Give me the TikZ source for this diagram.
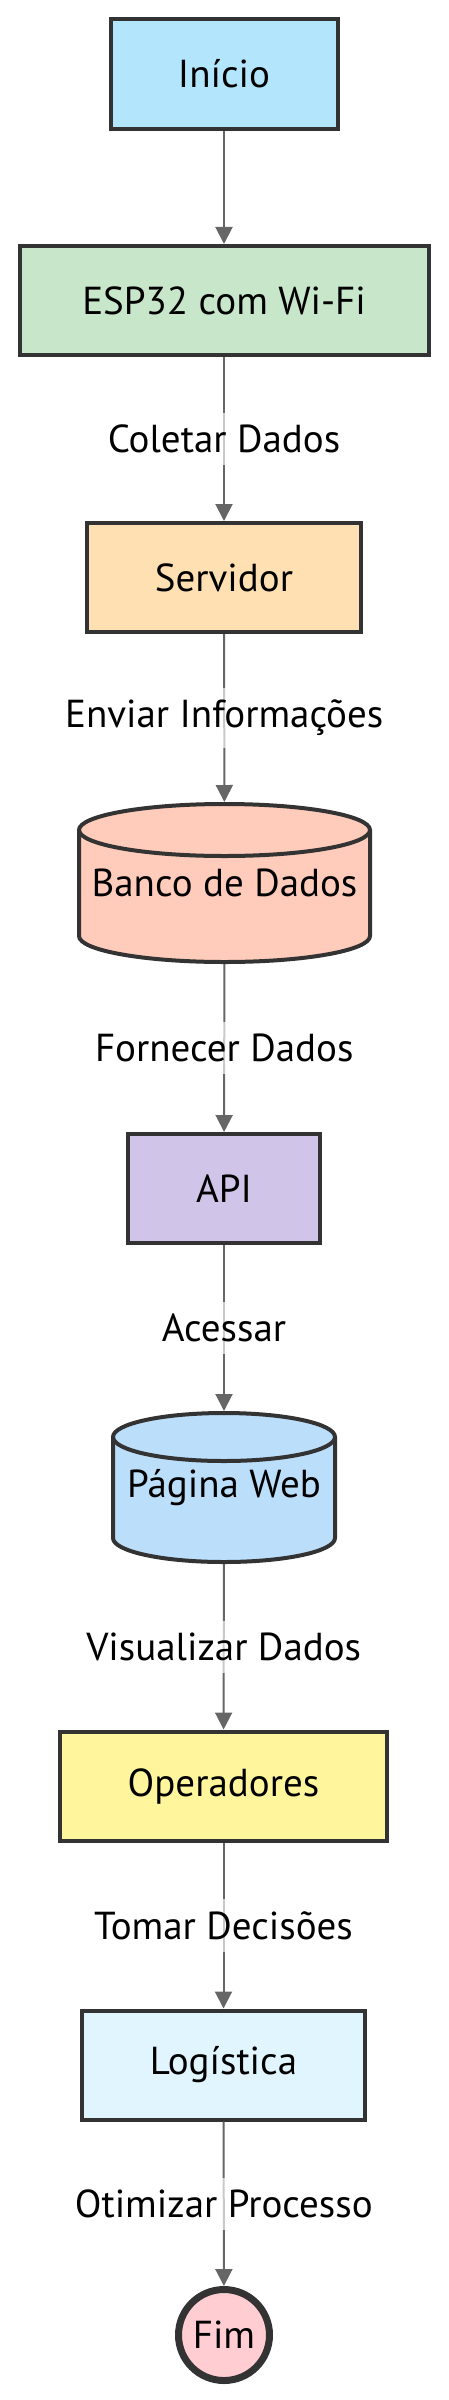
\documentclass[tikz,border=0pt]{standalone}
\usepackage{fontspec}
\setmainfont{PT Sans}
\usetikzlibrary{arrows.meta,calc}
\pgfdeclarelayer{bg}
\pgfsetlayers{bg,main}
\definecolor{strokec}{HTML}{333333}
\definecolor{edgec}{HTML}{666666}
\definecolor{cInicio}{HTML}{B3E5FC}
\definecolor{cEsp}{HTML}{C8E6C9}
\definecolor{cServ}{HTML}{FFE0B2}
\definecolor{cBanco}{HTML}{FFCCBC}
\definecolor{cApi}{HTML}{D1C4E9}
\definecolor{cWeb}{HTML}{BBDEFB}
\definecolor{cOper}{HTML}{FFF59D}
\definecolor{cLog}{HTML}{E1F5FE}
\definecolor{cFim}{HTML}{FFCDD2}
\newcommand{\lblfont}{\fontsize{39}{46}\selectfont}
% #1 node, #2 rx, #3 half height, #4 ry, #5 fill
\newcommand{\cylshape}[5]{%
 \begin{pgfonlayer}{bg}
 \path[fill=#5] ($(#1.center)+(-#2,#3-#4)$) -- ($(#1.center)+(-#2,-#3+#4)$)
   arc[start angle=180,end angle=360,x radius=#2,y radius=#4]
   -- ($(#1.center)+(#2,#3-#4)$)
   arc[start angle=0,end angle=180,x radius=#2,y radius=#4] -- cycle;
 \draw[line width=4pt, draw=strokec, line join=round] ($(#1.center)+(-#2,#3-#4)$) -- ($(#1.center)+(-#2,-#3+#4)$)
   arc[start angle=180,end angle=360,x radius=#2,y radius=#4]
   -- ($(#1.center)+(#2,#3-#4)$);
 \draw[line width=4pt, draw=strokec] ($(#1.center)+(0,#3-#4)$) ellipse[x radius=#2,y radius=#4];
 \end{pgfonlayer}%
}
\begin{document}
\begin{tikzpicture}[x=1pt,y=1pt,
  box/.style={draw=strokec, line width=4pt, rectangle, minimum height=109pt, inner sep=0pt, font=\lblfont},
  cylnode/.style={rectangle, draw=none, inner sep=0pt, outer sep=2pt, font=\lblfont},
  edge/.style={draw=edgec, line width=2pt, -{Triangle[length=17pt,width=17pt]}},
  elabel/.style={fill=white, fill opacity=0.65, text opacity=1, inner xsep=2pt, inner ysep=12pt, font=\lblfont}
]
\useasboundingbox (0,0) rectangle (448,-2400);

\node[box, fill=cInicio, minimum width=227pt, minimum height=110pt] (inicio) at (224,-74) {Início};
\node[box, fill=cEsp, minimum width=409pt] (esp) at (224,-300.5) {ESP32 com Wi-Fi};
\node[box, fill=cServ, minimum width=274pt] (serv) at (224,-577.5) {Servidor};
\node[cylnode, minimum width=291pt, minimum height=158pt] (banco) at (224.5,-883) {Banco de Dados};
\cylshape{banco}{145.5}{79}{26}{cBanco}
\node[box, fill=cApi, minimum width=192pt] (api) at (224,-1188.5) {API};
\node[cylnode, minimum width=222pt, minimum height=149pt] (web) at (224,-1487.5) {Página Web};
\cylshape{web}{111}{74.5}{24}{cWeb}
\node[box, fill=cOper, minimum width=327pt] (oper) at (223.5,-1786) {Operadores};
\node[box, fill=cLog, minimum width=283pt] (log) at (223.5,-2065) {Logística};
\node[circle, draw=strokec, line width=7pt, fill=cFim, minimum size=91pt, inner sep=0pt, font=\lblfont] (fim) at (224,-2335) {Fim};

\draw[edge] (inicio) -- (esp);
\draw[edge] (esp) -- node[elabel]{Coletar Dados} (serv);
\draw[edge] (serv) -- node[elabel]{Enviar Informações} (banco);
\draw[edge] (banco) -- node[elabel]{Fornecer Dados} (api);
\draw[edge] (api) -- node[elabel]{Acessar} (web);
\draw[edge] (web) -- node[elabel]{Visualizar Dados} (oper);
\draw[edge] (oper) -- node[elabel]{Tomar Decisões} (log);
\draw[edge] (log) -- node[elabel]{Otimizar Processo} (fim);
\end{tikzpicture}
\end{document}
